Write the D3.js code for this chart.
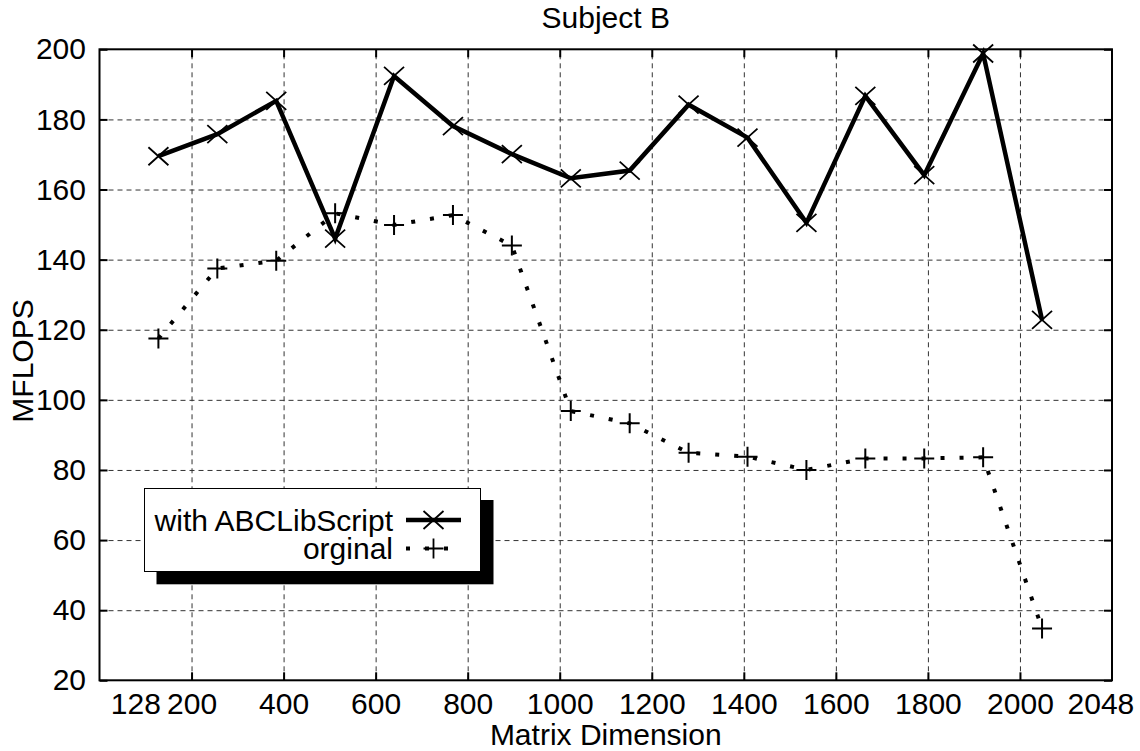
<!DOCTYPE html>
<html lang="en">
<head>
<meta charset="UTF-8">
<title>Subject B</title>
<style>
  body { margin: 0; background: #fff; }
  svg { display: block; font-family: "Liberation Sans", Arial, Helvetica, sans-serif; }
  .grid line { stroke: #333; stroke-width: 1; stroke-dasharray: 5,4; }
  .grid path, .labels path, .ticks path { display: none; }
  .labels text { font-size: 30px; fill: #000; }
  .ticks line { stroke: #000; stroke-width: 2; }
</style>
</head>
<body>
<svg id="chart" width="1140" height="751"></svg>
<script src="https://d3js.org/d3.v7.min.js"></script>
<script>
// matrix sizes (x values)
const dims = [128, 256, 384, 512, 640, 768, 896, 1024, 1152, 1280, 1408, 1536, 1664, 1792, 1920, 2048];
// MFLOPS
const withABCLib = [169.5, 175.8, 185.3, 146.0, 192.4, 178.1, 170.1, 163.2, 165.4, 184.2, 174.8, 150.5, 186.7, 164.1, 198.8, 122.8];
const original   = [117.5, 137.5, 139.7, 153.2, 149.9, 152.7, 144.0, 96.8, 93.3, 84.9, 83.8, 80.0, 83.3, 83.3, 83.6, 34.8];
const seriesNames = ["with ABCLibScript", "orginal"];
const xGridTicks = [200, 400, 600, 800, 1000, 1200, 1400, 1600, 1800, 2000];
const xLabelTicks = [128, 200, 400, 600, 800, 1000, 1200, 1400, 1600, 1800, 2000, 2048];
const yTicks = [20, 40, 60, 80, 100, 120, 140, 160, 180, 200];

const pL = 99.5, pR = 1112, pT = 49.3, pB = 680.3;
const fs = 30;
const svg = d3.select("#chart");

const x = d3.scaleLinear().domain([0, 2200]).range([pL, pR]);
const y = d3.scaleLinear().domain([20, 200]).range([pB, pT]);

// grid
svg.append("g").attr("class", "grid")
  .attr("transform", `translate(0,${pB})`)
  .call(d3.axisBottom(x).tickValues(xGridTicks).tickSize(-(pB - pT)).tickFormat(""));
svg.append("g").attr("class", "grid")
  .attr("transform", `translate(${pL},0)`)
  .call(d3.axisLeft(y).tickValues(yTicks.slice(1, -1)).tickSize(-(pR - pL)).tickFormat(""));

// inward tick marks on all sides
svg.append("g").attr("class", "ticks").attr("transform", `translate(0,${pB})`)
  .call(d3.axisBottom(x).tickValues(xGridTicks).tickSize(-8).tickFormat(""));
svg.append("g").attr("class", "ticks").attr("transform", `translate(0,${pT})`)
  .call(d3.axisTop(x).tickValues(xGridTicks).tickSize(-8).tickFormat(""));
svg.append("g").attr("class", "ticks").attr("transform", `translate(${pL},0)`)
  .call(d3.axisLeft(y).tickValues(yTicks).tickSize(-8).tickFormat(""));
svg.append("g").attr("class", "ticks").attr("transform", `translate(${pR},0)`)
  .call(d3.axisRight(y).tickValues(yTicks).tickSize(-8).tickFormat(""));

// tick labels
const xl = svg.append("g").attr("class", "labels")
  .attr("transform", `translate(0,${pB})`)
  .call(d3.axisBottom(x).tickValues(xLabelTicks).tickSize(0).tickPadding(12).tickFormat(d3.format("d")));
xl.selectAll("line").remove();
xl.selectAll(".tick").filter(d => d === 128).select("text")
  .attr("text-anchor", "end").attr("dx", 2);
xl.selectAll(".tick").filter(d => d === 2048).select("text")
  .attr("text-anchor", "start").attr("dx", 25);

const yl = svg.append("g").attr("class", "labels")
  .attr("transform", `translate(${pL},0)`)
  .call(d3.axisLeft(y).tickValues(yTicks).tickSize(0).tickPadding(13.5));
yl.selectAll("line").remove();

// lines
const pts1 = dims.map((d, i) => [d, withABCLib[i]]);
const pts2 = dims.map((d, i) => [d, original[i]]);
const line = d3.line().x(d => x(d[0])).y(d => y(d[1]));

svg.append("path").datum(pts2)
  .attr("d", line).attr("fill", "none").attr("stroke", "#000")
  .attr("stroke-width", 4).attr("stroke-dasharray", "4,15");
svg.append("path").datum(pts1)
  .attr("d", line).attr("fill", "none").attr("stroke", "#000")
  .attr("stroke-width", 4.5).attr("stroke-linejoin", "miter");

const crossPath = "M-10,-9L10,9M-10,9L10,-9";
const plusPath = "M-10,0L10,0M0,-10L0,10";

svg.append("g").selectAll("path").data(pts1).join("path")
  .attr("transform", d => `translate(${x(d[0])},${y(d[1])})`)
  .attr("d", crossPath).attr("stroke", "#000").attr("stroke-width", 1.8).attr("fill", "none");
svg.append("g").selectAll("path").data(pts2).join("path")
  .attr("transform", d => `translate(${x(d[0])},${y(d[1])})`)
  .attr("d", plusPath).attr("stroke", "#000").attr("stroke-width", 2).attr("fill", "none");

// legend
const lg = svg.append("g");
lg.append("rect").attr("x", 156.5).attr("y", 500).attr("width", 337).attr("height", 84.3).attr("fill", "#000");
lg.append("rect").attr("x", 144.5).attr("y", 488.5).attr("width", 336).attr("height", 83).attr("fill", "#fff")
  .attr("stroke", "#000").attr("stroke-width", 1);
const rows = [
  { name: seriesNames[0], mark: crossPath, dash: null, w: 4.5, my: 520 },
  { name: seriesNames[1], mark: plusPath, dash: "4,15", w: 4, my: 548.5 }
];
rows.forEach(r => {
  lg.append("text").attr("x", 393).attr("y", r.my + 10.5).attr("text-anchor", "end")
    .attr("font-size", fs).text(r.name);
  lg.append("line").attr("x1", 406).attr("x2", 461).attr("y1", r.my).attr("y2", r.my)
    .attr("stroke", "#000").attr("stroke-width", r.w).attr("stroke-dasharray", r.dash);
  lg.append("path").attr("transform", `translate(433.5,${r.my})`).attr("d", r.mark)
    .attr("stroke", "#000").attr("stroke-width", 1.8).attr("fill", "none");
});

// frame
svg.append("rect").attr("x", pL).attr("y", pT).attr("width", pR - pL).attr("height", pB - pT)
  .attr("fill", "none").attr("stroke", "#000").attr("stroke-width", 2);

// titles
svg.append("text").attr("x", (pL + pR) / 2).attr("y", 28).attr("text-anchor", "middle")
  .attr("font-size", fs).text("Subject B");
svg.append("text").attr("x", (pL + pR) / 2).attr("y", 745).attr("text-anchor", "middle")
  .attr("font-size", fs).text("Matrix Dimension");
svg.append("text").attr("transform", "translate(33,361) rotate(-90)").attr("text-anchor", "middle")
  .attr("font-size", fs).text("MFLOPS");
</script>
</body>
</html>
